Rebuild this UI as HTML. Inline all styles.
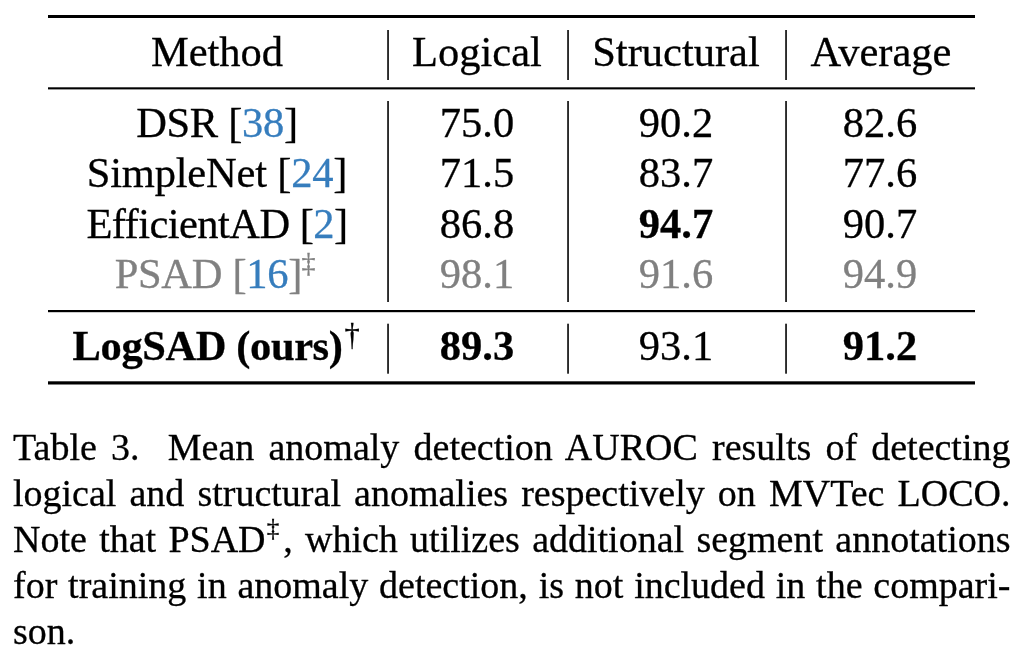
<!DOCTYPE html>
<html><head><meta charset="utf-8"><style>
html,body{margin:0;padding:0;background:#fff;}
body{width:1024px;height:664px;position:relative;overflow:hidden;font-family:"Liberation Serif",serif;}
.t{position:absolute;will-change:transform;white-space:nowrap;line-height:normal;-webkit-text-stroke:0.3px currentColor;}
.r{position:absolute;}
.c{position:absolute;will-change:transform;left:12.5px;width:997.5px;text-align:justify;text-align-last:justify;line-height:normal;white-space:nowrap;-webkit-text-stroke:0.3px currentColor;}
.sup{font-size:0.66em;line-height:0;vertical-align:0.62em;margin-left:-1.5px;margin-right:1px}
b{font-weight:bold}
</style></head><body><div id="w">
<svg class="r" style="left:0;top:0" width="1024" height="664" viewBox="0 0 1024 664"><rect x="48" y="15" width="927" height="3" fill="#000"/><rect x="48" y="87.3" width="927" height="2.1" fill="#000"/><rect x="48" y="310" width="927" height="2.2" fill="#000"/><rect x="48" y="381.3" width="927" height="3.2" fill="#000"/><rect x="387.1" y="30" width="1.9" height="50" fill="#2a2a2a"/><rect x="387.1" y="101" width="1.9" height="201" fill="#2a2a2a"/><rect x="387.1" y="323.7" width="1.9" height="50" fill="#2a2a2a"/><rect x="567.1" y="30" width="1.9" height="50" fill="#2a2a2a"/><rect x="567.1" y="101" width="1.9" height="201" fill="#2a2a2a"/><rect x="567.1" y="323.7" width="1.9" height="50" fill="#2a2a2a"/><rect x="785.1" y="30" width="1.9" height="50" fill="#2a2a2a"/><rect x="785.1" y="101" width="1.9" height="201" fill="#2a2a2a"/><rect x="785.1" y="323.7" width="1.9" height="50" fill="#2a2a2a"/></svg>
<div class="t" style="left:-83.00px;width:600px;text-align:center;top:27.13px;font-size:42.5px;font-weight:normal;color:#000;">Method</div>
<div class="t" style="left:177.00px;width:600px;text-align:center;top:27.13px;font-size:42.5px;font-weight:normal;color:#000;">Logical</div>
<div class="t" style="left:375.80px;width:600px;text-align:center;top:27.13px;font-size:42.5px;font-weight:normal;color:#000;">Structural</div>
<div class="t" style="left:580.50px;width:600px;text-align:center;top:27.13px;font-size:42.5px;font-weight:normal;color:#000;">Average</div>
<div class="t" style="left:-83.45px;width:600px;text-align:center;top:98.13px;font-size:42.5px;font-weight:normal;color:#000;letter-spacing:-0.3px;">DSR [<span style="color:#367dbd">38</span>]</div>
<div class="t" style="left:-83.30px;width:600px;text-align:center;top:148.13px;font-size:42.5px;font-weight:normal;color:#000;letter-spacing:-0.2px;">SimpleNet [<span style="color:#367dbd">24</span>]</div>
<div class="t" style="left:-82.58px;width:600px;text-align:center;top:198.63px;font-size:42.5px;font-weight:normal;color:#000;letter-spacing:-0.55px;">EfficientAD [<span style="color:#367dbd">2</span>]</div>
<div class="t" style="left:-84.75px;width:600px;text-align:center;top:248.63px;font-size:42.5px;font-weight:normal;color:#808080;letter-spacing:-0.3px;">PSAD [<span style="color:#367dbd">16</span>]<span style="font-size:0.66em;line-height:0;vertical-align:0.58em;margin-left:-0.5px">&Dagger;</span></div>
<div class="t" style="left:177.20px;width:600px;text-align:center;top:98.13px;font-size:42.5px;font-weight:normal;color:#000;">75.0</div>
<div class="t" style="left:376.30px;width:600px;text-align:center;top:98.13px;font-size:42.5px;font-weight:normal;color:#000;">90.2</div>
<div class="t" style="left:580.20px;width:600px;text-align:center;top:98.13px;font-size:42.5px;font-weight:normal;color:#000;">82.6</div>
<div class="t" style="left:177.20px;width:600px;text-align:center;top:148.13px;font-size:42.5px;font-weight:normal;color:#000;">71.5</div>
<div class="t" style="left:376.30px;width:600px;text-align:center;top:148.13px;font-size:42.5px;font-weight:normal;color:#000;">83.7</div>
<div class="t" style="left:580.20px;width:600px;text-align:center;top:148.13px;font-size:42.5px;font-weight:normal;color:#000;">77.6</div>
<div class="t" style="left:177.20px;width:600px;text-align:center;top:198.63px;font-size:42.5px;font-weight:normal;color:#000;">86.8</div>
<div class="t" style="left:376.30px;width:600px;text-align:center;top:198.63px;font-size:42.5px;font-weight:normal;color:#000;"><b>94.7</b></div>
<div class="t" style="left:580.20px;width:600px;text-align:center;top:198.63px;font-size:42.5px;font-weight:normal;color:#000;">90.7</div>
<div class="t" style="left:177.20px;width:600px;text-align:center;top:248.63px;font-size:42.5px;font-weight:normal;color:#808080;">98.1</div>
<div class="t" style="left:376.30px;width:600px;text-align:center;top:248.63px;font-size:42.5px;font-weight:normal;color:#808080;">91.6</div>
<div class="t" style="left:580.20px;width:600px;text-align:center;top:248.63px;font-size:42.5px;font-weight:normal;color:#808080;">94.9</div>
<div class="t" style="left:-83.70px;width:600px;text-align:center;top:321.13px;font-size:42.5px;font-weight:normal;color:#000;letter-spacing:-0.4px;"><b>LogSAD (ours)</b><span style="font-size:0.72em;line-height:0;vertical-align:0.5em;margin-left:2px">&dagger;</span></div>
<div class="t" style="left:177.20px;width:600px;text-align:center;top:321.13px;font-size:42.5px;font-weight:normal;color:#000;"><b>89.3</b></div>
<div class="t" style="left:376.30px;width:600px;text-align:center;top:321.13px;font-size:42.5px;font-weight:normal;color:#000;">93.1</div>
<div class="t" style="left:580.20px;width:600px;text-align:center;top:321.13px;font-size:42.5px;font-weight:normal;color:#000;"><b>91.2</b></div>
<div class="c" style="top:425.14px;font-size:38.0px">Table 3.&nbsp; Mean anomaly detection AUROC results of detecting</div>
<div class="c" style="top:471.14px;font-size:38.0px">logical and structural anomalies respectively on MVTec LOCO.</div>
<div class="c" style="top:517.14px;font-size:38.0px">Note that PSAD<span class="sup">&Dagger;</span>, which utilizes additional segment annotations</div>
<div class="c" style="top:563.14px;font-size:38.0px">for training in anomaly detection, is not included in the compari-</div>
<div class="t" style="left:12.5px;top:609.14px;font-size:38.0px">son.</div>
</div></body></html>
